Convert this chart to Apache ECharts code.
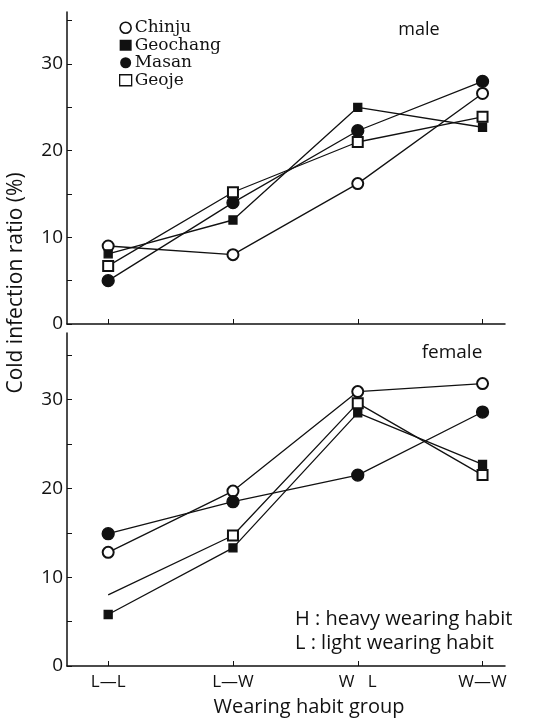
<!DOCTYPE html>
<html>
<head>
<meta charset="utf-8">
<script src="https://cdn.jsdelivr.net/npm/echarts@6/dist/echarts.min.js"></script>
<style>
html,body{margin:0;padding:0;background:#fff;}
#chart{width:540px;height:719px;}
</style>
</head>
<body>
<div id="chart"></div>
<script>
/*categories and values*/
var groups=["L—L","L—W","W   L","W—W"];
var towns=["Chinju","Geochang","Masan","Geoje"];
var yTicks=[0,5,10,15,20,25,30,35];
var yLabels=[0,10,20,30];

var maleChinju=[9,8,16.2,26.6];
var maleGeochang=[8.1,12,25,22.7];
var maleMasan=[5,14,22.3,28];
var maleGeoje=[6.7,15.2,21,23.9];

var femaleChinju=[12.8,19.7,30.9,31.8];
var femaleGeochang=[5.8,13.3,28.5,22.7];
var femaleMasan=[14.9,18.5,21.5,28.6];
var femaleGeoje=[8,14.7,29.6,21.5];

var ink="#111";
var sans="'Open Sans', Lato, sans-serif";
var serif="'DejaVu Serif', 'Liberation Serif', serif";

/*symbol per town*/
var marks={
    Chinju:{symbol:"emptyCircle",size:11},
    Geochang:{symbol:"rect",size:8},
    Masan:{symbol:"circle",size:12},
    Geoje:{symbol:"emptyRect",size:10}
};

function pairs(vals){
    var out=[];
    for(var i=0;i<vals.length;i++){out.push([i,vals[i]]);}
    return out;
}

function line(name,vals,idx,noFirst){
    var d=pairs(vals);
    if(noFirst){d[0]={value:d[0],symbol:"none"};}
    return {
        name:name,type:"line",xAxisIndex:idx,yAxisIndex:idx,
        data:d,symbol:marks[name].symbol,symbolSize:marks[name].size,
        lineStyle:{color:ink,width:1.3},
        itemStyle:{color:ink,borderColor:ink,borderWidth:1.3},
        animation:false,z:3
    };
}

function xAx(idx,showLabel){
    return {
        type:"value",gridIndex:idx,min:-0.33,max:3.18,
        axisLine:{lineStyle:{color:ink,width:1.5}},
        axisTick:{inside:true,length:5,customValues:[0,1,2,3],lineStyle:{color:ink}},
        axisLabel:{show:showLabel,customValues:[0,1,2,3],margin:8,color:ink,fontFamily:sans,fontSize:17,
            formatter:function(v){return groups[Math.round(v)];}},
        splitLine:{show:false}
    };
}

function yAx(idx,max){
    return {
        type:"value",gridIndex:idx,min:0,max:max,
        axisLine:{show:true,onZero:false,lineStyle:{color:ink,width:1.5}},
        axisTick:{show:true,inside:true,length:5,customValues:yTicks,lineStyle:{color:ink}},
        axisLabel:{customValues:yLabels,margin:4,color:ink,fontFamily:sans,fontSize:19},
        splitLine:{show:false}
    };
}

var myChart=echarts.init(document.getElementById("chart"),null,{renderer:"canvas"});
myChart.setOption({
    backgroundColor:"#fff",
    grid:[
        {left:67,right:35,top:12,height:312},
        {left:67,right:35,top:333,height:333}
    ],
    xAxis:[xAx(0,false),xAx(1,true)],
    yAxis:[yAx(0,36),yAx(1,37.5)],
    legend:{
        orient:"vertical",left:114,top:14,itemGap:0,itemWidth:12,itemHeight:11,
        data:[
            {name:"Chinju",icon:"circle",itemStyle:{color:"#fff",borderColor:ink,borderWidth:1.6}},
            {name:"Geochang",icon:"rect",itemStyle:{color:ink,borderWidth:0}},
            {name:"Masan",icon:"circle",itemStyle:{color:ink,borderWidth:0}},
            {name:"Geoje",icon:"rect",itemStyle:{color:"#fff",borderColor:ink,borderWidth:1.3}}
        ],
        textStyle:{color:ink,fontFamily:serif,fontSize:17,lineHeight:17.5,padding:[0,0,0,-2]},
        selectedMode:false
    },
    series:[
        line("Chinju",maleChinju,0),
        line("Geochang",maleGeochang,0),
        line("Masan",maleMasan,0),
        line("Geoje",maleGeoje,0),
        line("Chinju",femaleChinju,1),
        line("Geochang",femaleGeochang,1),
        line("Masan",femaleMasan,1),
        line("Geoje",femaleGeoje,1,true)
    ],
    graphic:[
        {type:"text",x:419,y:30,style:{text:"male",fill:ink,font:"18px "+sans,align:"center",verticalAlign:"middle"}},
        {type:"text",x:452,y:353,style:{text:"female",fill:ink,font:"19px "+sans,align:"center",verticalAlign:"middle"}},
        {type:"text",x:295,y:619,style:{text:"H : heavy wearing habit",fill:ink,font:"20px "+sans,verticalAlign:"middle"}},
        {type:"text",x:295,y:643,style:{text:"L : light wearing habit",fill:ink,font:"20px "+sans,verticalAlign:"middle"}},
        {type:"text",x:309,y:707,style:{text:"Wearing habit group",fill:ink,font:"20px "+sans,align:"center",verticalAlign:"middle"}},
        {type:"text",x:16,y:283,rotation:Math.PI/2,style:{text:"Cold infection ratio (%)",fill:ink,font:"21px "+sans,align:"center",verticalAlign:"middle"}}
    ]
});
</script>
</body>
</html>
